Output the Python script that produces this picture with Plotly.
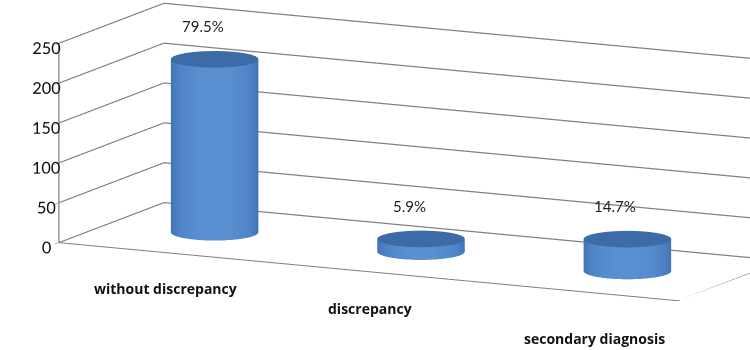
import numpy as np
import plotly.graph_objects as go

categories = ["without discrepancy", "discrepancy", "secondary diagnosis"]
counts = [217, 16, 40]
pct_labels = ["79.5%", "5.9%", "14.7%"]
value_ticks = [0, 50, 100, 150, 200, 250]

# layout / style settings
ASP = dict(x=3.95, y=1.35, z=1.16)
XR = [-0.5, 2.5]
YR = [0.0, 1.0]
ZR = [0, 250]
sx = ASP["x"] / (XR[1] - XR[0])
sy = ASP["y"] / (YR[1] - YR[0])
R = 0.19
RY = R * sx / sy
CY = 0.5
cat_shift = [(3, -36), (2, -37), (20, -47)]

alpha, beta, dist = np.radians(26.4), np.radians(10.9), 2.4
CEN = dict(x=-0.2245, y=-0.1391, z=-0.1290)
flat = dict(ambient=1, diffuse=0, specular=0, roughness=1, fresnel=0)
side_scale = [[0, "#2E5A94"], [0.5, "#3D6CAE"], [0.8, "#4E83C6"], [1, "#5A8FD2"]]
top_scale = [[0, "#3D6BA8"], [1, "#3D6BA8"]]

fig = go.Figure()
th = np.linspace(0, 2 * np.pi, 145)
th0 = np.arctan2(-np.cos(alpha), np.sin(alpha))
shade = np.cos(th - th0)
for i, (cat, v) in enumerate(zip(categories, counts)):
    xs = np.vstack([i + R * np.cos(th)] * 2)
    ys = np.vstack([CY + RY * np.sin(th)] * 2)
    zs = np.vstack([np.zeros_like(th), np.full_like(th, v)])
    fig.add_trace(go.Surface(x=xs, y=ys, z=zs, surfacecolor=np.vstack([shade] * 2),
                             colorscale=side_scale, cmin=-1, cmax=1, showscale=False,
                             lighting=flat, hoverinfo="skip"))
    rr = np.array([0, 1.0])[:, None]
    fig.add_trace(go.Surface(x=i + rr * R * np.cos(th), y=CY + rr * RY * np.sin(th),
                             z=np.full((2, th.size), v), surfacecolor=np.zeros((2, th.size)),
                             colorscale=top_scale, showscale=False, lighting=flat,
                             hoverinfo="skip"))

# floor outline (front and right edges)
fig.add_trace(go.Scatter3d(x=[XR[0], XR[1], XR[1]], y=[YR[0], YR[0], YR[1]], z=[0, 0, 0],
                           mode="lines", line=dict(color="#808080", width=2), hoverinfo="skip"))

annotations = []
for i, (cat, v, p) in enumerate(zip(categories, counts, pct_labels)):
    annotations.append(dict(x=i, y=YR[0], z=0, text=cat, showarrow=False,
                            xshift=cat_shift[i][0], yshift=cat_shift[i][1],
                            font=dict(family="Open Sans", size=14, color="#111", weight="bold")))
    annotations.append(dict(x=i, y=CY, z=v, text=p, showarrow=False, xshift=-12, yshift=33,
                            font=dict(family="Lato", size=15, color="#222")))

ax_common = dict(showbackground=False, showspikes=False, zeroline=False, title=dict(text=""))
fig.update_layout(
    width=750, height=350, margin=dict(l=0, r=0, t=0, b=0),
    paper_bgcolor="white", showlegend=False,
    scene=dict(
        domain=dict(x=[0, 1], y=[0, 1]),
        aspectmode="manual", aspectratio=ASP,
        annotations=annotations,
        xaxis=dict(range=XR, showgrid=False, showticklabels=False, showline=False, ticks="", **ax_common),
        yaxis=dict(range=YR, showgrid=False, showticklabels=False, showline=False, ticks="", **ax_common),
        zaxis=dict(range=ZR, tickvals=value_ticks, showgrid=True, gridcolor="#808080", gridwidth=2.5,
                   tickangle=0,
                   tickfont=dict(family="Lato", size=14, color="#111"),
                   showline=True, linecolor="#808080", linewidth=2.5, ticks="outside",
                   tickcolor="#808080", ticklen=6, **ax_common),
        camera=dict(eye=dict(x=CEN["x"] + dist * np.sin(alpha) * np.cos(beta),
                             y=CEN["y"] - dist * np.cos(alpha) * np.cos(beta),
                             z=CEN["z"] + dist * np.sin(beta)),
                    center=CEN, up=dict(x=0, y=0, z=1),
                    projection=dict(type="orthographic")),
    ),
)
fig.write_html("out.html")
